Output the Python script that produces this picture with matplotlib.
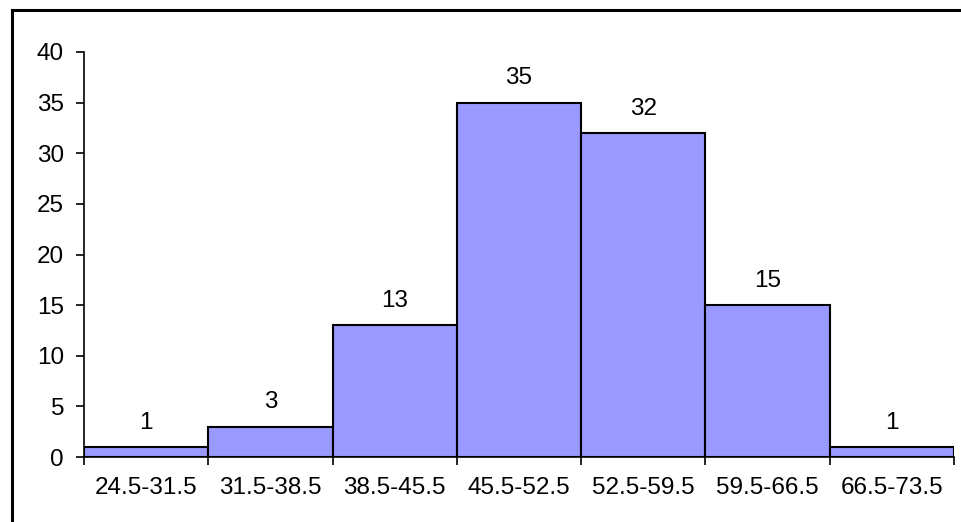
import matplotlib
matplotlib.use("Agg")
import matplotlib.pyplot as plt
from matplotlib.lines import Line2D
import numpy as np

categories = ["24.5-31.5", "31.5-38.5", "38.5-45.5", "45.5-52.5",
              "52.5-59.5", "59.5-66.5", "66.5-73.5"]
counts = [1, 3, 13, 35, 32, 15, 1]
y_ticks = [0, 5, 10, 15, 20, 25, 30, 35, 40]

plt.rcParams['font.family'] = ['Liberation Sans', 'DejaVu Sans']
FS = 17.5

fig = plt.figure(figsize=(9.61, 5.22), dpi=100)
ax = fig.add_axes([84/961, 1-457/522, (954-84)/961, (457-52)/522])

x = np.arange(len(categories))
ax.bar(x, counts, width=1.0, color="#9999FF", edgecolor="black", linewidth=1.5)

for xi, c in zip(x, counts):
    ax.annotate(str(c), (xi, c), xytext=(0, 9.5), textcoords="offset points",
                ha="center", va="bottom", fontsize=FS)

ax.set_xlim(-0.5, len(categories) - 0.5)
ax.set_ylim(0, 40)
ax.set_yticks(y_ticks)
ax.tick_params(axis="y", direction="out", length=5.8, width=1.2, labelsize=FS, pad=8.6)
ax.set_xticks(x)
ax.set_xticklabels(categories, fontsize=FS)
ax.tick_params(axis="x", length=0, pad=14.5)
# boundary ticks between categories
ax.set_xticks(np.arange(-0.5, len(categories)), minor=True)
ax.tick_params(axis="x", which="minor", direction="out", length=6, width=1.2)

for s in ["top", "right"]:
    ax.spines[s].set_visible(False)
for s in ["left", "bottom"]:
    ax.spines[s].set_linewidth(1.2)

# figure border (left and top)
fig.add_artist(Line2D([12/961, 12/961], [0, 1-10/522], transform=fig.transFigure,
                      color="black", linewidth=2.2))
fig.add_artist(Line2D([12/961, 1], [1-10/522, 1-10/522], transform=fig.transFigure,
                      color="black", linewidth=2.2))

fig.savefig("out.png", dpi=100)
